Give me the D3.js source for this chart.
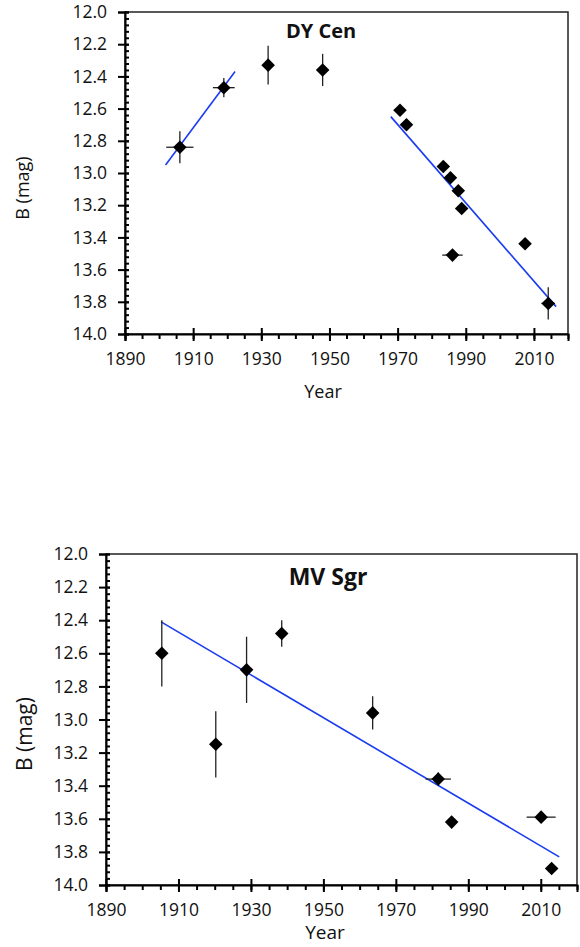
<!DOCTYPE html>
<html>
<head>
<meta charset="utf-8">
<script src="https://cdn.jsdelivr.net/npm/d3@7"></script>
<style>
  body { margin: 0; background: #fff; }
  svg { font-family: "Open Sans", sans-serif; }
</style>
</head>
<body>
<script>
// DY Cen
const dyYear = [1906.1, 1919.0, 1932.0, 1948.0, 1970.7, 1972.6, 1983.4, 1985.5, 1986.1, 1987.8, 1988.8, 2007.4, 2014.2];
const dyMag = [12.84, 12.47, 12.33, 12.36, 12.61, 12.70, 12.96, 13.03, 13.51, 13.11, 13.22, 13.44, 13.81];
const dyMagErr = [0.1, 0.06, 0.12, 0.1, 0, 0, 0, 0, 0, 0, 0, 0, 0.1];
const dyYearErr = [4, 3.2, 0, 0, 0, 0, 0, 0, 3, 0, 0, 0, 2];
const dyFitYears = [[1901.9, 1922.3], [1968.0, 2016.5]];
const dyFitMags = [[12.95, 12.37], [12.65, 13.83]];

// MV Sgr
const mvYear = [1905.4, 1920.3, 1928.8, 1938.5, 1963.6, 1981.7, 1985.4, 2010.1, 2013.0];
const mvMag = [12.60, 13.15, 12.70, 12.48, 12.96, 13.36, 13.62, 13.59, 13.90];
const mvMagErr = [0.2, 0.2, 0.2, 0.08, 0.1, 0.04, 0, 0, 0];
const mvYearErr = [0, 0, 0, 0, 0, 3.5, 0, 4, 0];
const mvFitYears = [[1905.2, 2015.1]];
const mvFitMags = [[12.41, 13.83]];

// Axes
const yearDomain = [1890, 2020];
const magDomain = [12, 14];
const yearTicks = [1890, 1910, 1930, 1950, 1970, 1990, 2010];
const magTicks = [12.0, 12.2, 12.4, 12.6, 12.8, 13.0, 13.2, 13.4, 13.6, 13.8, 14.0];
const xLabel = 'Year';
const yLabel = 'B (mag)';

const svg = d3.select('body').append('svg')
    .attr('width', 580)
    .attr('height', 947);

function drawPanel(cfg) {
    const x = d3.scaleLinear().domain(yearDomain).range([cfg.left, cfg.right]);
    const y = d3.scaleLinear().domain(magDomain).range([cfg.top, cfg.bottom]);
    const g = svg.append('g');

    // frame
    g.append('rect')
        .attr('x', cfg.left).attr('y', cfg.top)
        .attr('width', cfg.right - cfg.left).attr('height', cfg.bottom - cfg.top)
        .attr('fill', 'none').attr('stroke', '#222').attr('stroke-width', 1.5);

    // minor ticks
    const xMinor = d3.range(yearDomain[0], yearDomain[1] + 0.1, 5);
    const yMinor = d3.range(0, 51).map(i => 12 + i * 0.04);
    g.append('g')
        .attr('transform', `translate(0,${cfg.bottom})`)
        .call(d3.axisBottom(x).tickValues(xMinor).tickSize(5).tickFormat(''))
        .call(a => a.select('.domain').remove());
    g.append('g')
        .attr('transform', `translate(${cfg.left},0)`)
        .call(d3.axisLeft(y).tickValues(yMinor).tickSize(-4).tickFormat(''))
        .call(a => a.select('.domain').remove());

    // inner half of major ticks
    g.append('g')
        .attr('transform', `translate(0,${cfg.bottom})`)
        .call(d3.axisBottom(x).tickValues(yearTicks).tickSize(-6).tickFormat(''))
        .call(a => a.select('.domain').remove());
    g.append('g')
        .attr('transform', `translate(${cfg.left},0)`)
        .call(d3.axisLeft(y).tickValues(magTicks).tickSize(-4).tickFormat(''))
        .call(a => a.select('.domain').remove());

    // main axes
    const xAxis = g.append('g')
        .attr('transform', `translate(0,${cfg.bottom})`)
        .call(d3.axisBottom(x).tickValues(yearTicks).tickSize(7).tickPadding(12).tickFormat(d3.format('d')));
    const yAxis = g.append('g')
        .attr('transform', `translate(${cfg.left},0)`)
        .call(d3.axisLeft(y).tickValues(magTicks).tickSize(7).tickPadding(11).tickFormat(d3.format('.1f')));

    [xAxis, yAxis].forEach(a => {
        a.selectAll('text').attr('font-size', 17.5).attr('fill', '#111').attr('font-family', '"Open Sans", sans-serif');
        a.selectAll('line').attr('stroke', '#000').attr('stroke-width', 2);
        a.select('.domain').attr('stroke', '#000').attr('stroke-width', 2);
    });
    g.selectAll('line').filter(function() { return !this.getAttribute('stroke-width'); })
        .attr('stroke', '#000').attr('stroke-width', 2);

    // fit lines
    cfg.fitYears.forEach((ys, i) => {
        g.append('line')
            .attr('x1', x(ys[0])).attr('y1', y(cfg.fitMags[i][0]))
            .attr('x2', x(ys[1])).attr('y2', y(cfg.fitMags[i][1]))
            .attr('stroke', '#1a3cf0').attr('stroke-width', 1.6);
    });

    const pts = cfg.years.map((yr, i) => ({ yr, mag: cfg.mags[i], me: cfg.magErr[i], ye: cfg.yearErr[i] }));

    // error bars
    g.selectAll('line.ey').data(pts.filter(d => d.me > 0)).enter().append('line')
        .attr('class', 'ey')
        .attr('x1', d => x(d.yr)).attr('x2', d => x(d.yr))
        .attr('y1', d => y(d.mag - d.me)).attr('y2', d => y(d.mag + d.me))
        .attr('stroke', '#222').attr('stroke-width', 1.3);
    g.selectAll('line.ex').data(pts.filter(d => d.ye > 0)).enter().append('line')
        .attr('class', 'ex')
        .attr('x1', d => x(d.yr - d.ye)).attr('x2', d => x(d.yr + d.ye))
        .attr('y1', d => y(d.mag)).attr('y2', d => y(d.mag))
        .attr('stroke', '#222').attr('stroke-width', 1.3);

    // diamonds
    g.selectAll('path.pt').data(pts).enter().append('path')
        .attr('class', 'pt')
        .attr('d', d3.symbol(d3.symbolSquare, 92))
        .attr('transform', d => `translate(${x(d.yr)},${y(d.mag)}) rotate(45)`)
        .attr('fill', '#000');

    // title
    g.append('text')
        .attr('x', cfg.titleX).attr('y', cfg.titleY)
        .attr('text-anchor', 'middle')
        .attr('font-weight', 'bold')
        .attr('font-size', cfg.titleSize)
        .attr('fill', '#111')
        .text(cfg.title);

    // axis labels
    g.append('text')
        .attr('x', cfg.xLabelX).attr('y', cfg.xLabelY)
        .attr('text-anchor', 'middle')
        .attr('font-size', cfg.xLabelSize)
        .attr('fill', '#111')
        .text(xLabel);
    g.append('text')
        .attr('transform', `translate(${cfg.yLabelX},${cfg.yLabelY}) rotate(-90)`)
        .attr('text-anchor', 'middle')
        .attr('font-size', cfg.yLabelSize)
        .attr('fill', '#111')
        .text(yLabel);
}

drawPanel({
    left: 125, right: 568, top: 12, bottom: 334,
    years: dyYear, mags: dyMag, magErr: dyMagErr, yearErr: dyYearErr,
    fitYears: dyFitYears, fitMags: dyFitMags,
    title: 'DY Cen', titleX: 321, titleY: 38, titleSize: 20,
    xLabelX: 323, xLabelY: 398, xLabelSize: 18,
    yLabelX: 29, yLabelY: 188, yLabelSize: 18
});

drawPanel({
    left: 106, right: 577, top: 554, bottom: 885,
    years: mvYear, mags: mvMag, magErr: mvMagErr, yearErr: mvYearErr,
    fitYears: mvFitYears, fitMags: mvFitMags,
    title: 'MV Sgr', titleX: 328, titleY: 585, titleSize: 23,
    xLabelX: 325, xLabelY: 939, xLabelSize: 19,
    yLabelX: 32, yLabelY: 734, yLabelSize: 21
});
</script>
</body>
</html>
